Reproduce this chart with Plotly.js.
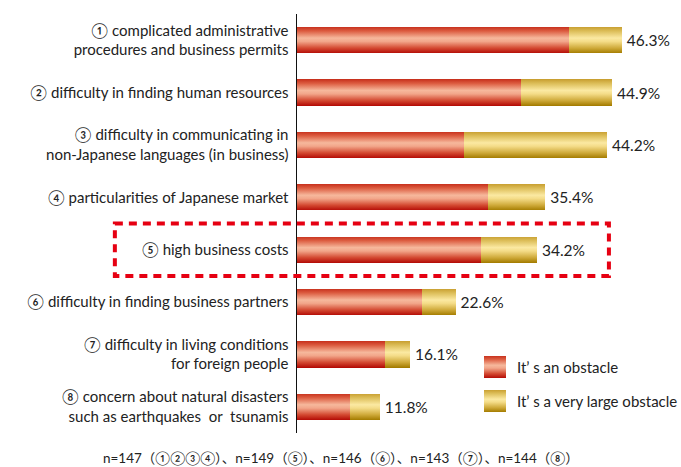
<!DOCTYPE html>
<html><head><meta charset="utf-8">
<script src="https://cdn.plot.ly/plotly-3.0.1.min.js"></script>
<style>html,body{margin:0;padding:0;background:#fff;}#chart{width:681px;height:467px;}</style>
</head><body><div id="chart"></div>
<script>
const categories = [
  "① complicated administrative<br>procedures and business permits",
  "② difficulty in finding human resources",
  "③ difficulty in communicating in<br>non-Japanese languages (in business)",
  "④ particularities of Japanese market",
  "⑤ high business costs",
  "⑥ difficulty in finding business partners",
  "⑦ difficulty in living conditions<br>for foreign people",
  "⑧ concern about natural disasters<br>such as earthquakes  or  tsunamis"
];
const obstacle      = [38.7, 31.9, 23.8, 27.2, 26.2, 17.8, 12.5, 7.5];
const veryLarge     = [7.6, 13.0, 20.4, 8.2, 8.0, 4.8, 3.6, 4.3];
const totalLabels   = ["46.3%", "44.9%", "44.2%", "35.4%", "34.2%", "22.6%", "16.1%", "11.8%"];
const seriesNames   = ["It\u2019 s an obstacle", "It\u2019 s a very large obstacle"];
const noteText      = "n=147（①②③④）、n=149（⑤）、n=146（⑥）、n=143（⑦）、n=144（⑧）";

const FONT = "Lato, 'Noto Sans CJK JP', sans-serif";

const traces = [
  {type:'bar', orientation:'h', y:categories, x:obstacle, name:seriesNames[0],
   marker:{color:'#d9533a', line:{width:0}}, hoverinfo:'none', showlegend:false},
  {type:'bar', orientation:'h', y:categories, x:veryLarge, name:seriesNames[1],
   marker:{color:'#d8b444', line:{width:0}}, hoverinfo:'none', showlegend:false,
   text:totalLabels.map(t => '\u2009' + t), textposition:'outside', cliponaxis:false, constraintext:'none',
   outsidetextfont:{family:FONT, size:15.5, color:'#222'}}
];

// legend built from series names (manual placement)
const legendBoxes = [
  {x0:0.5, x1:0.5588, y0:0.1313, y1:0.1838, color:'#d9533a'},
  {x0:0.5, x1:0.5588, y0:0.0501, y1:0.1026, color:'#d8b444'}
];

const layout = {
  width:681, height:467,
  margin:{l:297, r:10, t:14, b:34},
  paper_bgcolor:'#fff', plot_bgcolor:'#fff',
  barmode:'stack', bargap:0.5,
  font:{family:FONT, size:15, color:'#222'},
  xaxis:{range:[0, 53.3], showgrid:false, zeroline:false, showticklabels:false, showline:false, ticks:'', fixedrange:true},
  yaxis:{type:'category', range:[7.5, -0.5], showgrid:false, zeroline:false, showline:true,
         linecolor:'#111', linewidth:1.5, ticks:'outside', ticklen:4, tickcolor:'rgba(0,0,0,0)',
         tickfont:{family:FONT, size:15, color:'#222'}},
  showlegend:false,
  shapes:[{type:'rect', xref:'paper', yref:'y', x0:-0.487, x1:0.834, y0:3.5, y1:4.5,
           line:{color:'#e60012', width:4, dash:'8px,6px'}, fillcolor:'rgba(0,0,0,0)', layer:'above'}]
    .concat(legendBoxes.map(b => ({type:'rect', xref:'paper', yref:'paper', x0:b.x0, x1:b.x1, y0:b.y0, y1:b.y1,
           line:{width:0}, fillcolor:b.color, layer:'above'}))),
  annotations:[
    {text:noteText, xref:'paper', yref:'paper', x:0.118, y:-0.06, xanchor:'center', yanchor:'middle',
     showarrow:false, font:{family:FONT, size:13.5, color:'#222'}},
    {text:seriesNames[0], xref:'paper', yref:'paper', x:0.582, y:0.1575, xanchor:'left', yanchor:'middle',
     showarrow:false, font:{family:FONT, size:15, color:'#222'}},
    {text:seriesNames[1], xref:'paper', yref:'paper', x:0.582, y:0.0764, xanchor:'left', yanchor:'middle',
     showarrow:false, font:{family:FONT, size:15, color:'#222'}}
  ]
};

function addGradients(gd){
  const svg = gd.querySelector('svg.main-svg');
  let defs = svg.querySelector('defs');
  if(!svg.querySelector('#gRed')){
    const ns='http://www.w3.org/2000/svg';
    const mk=(id,stops)=>{
      const g=document.createElementNS(ns,'linearGradient');
      g.setAttribute('id',id); g.setAttribute('x1','0'); g.setAttribute('y1','0'); g.setAttribute('x2','0'); g.setAttribute('y2','1');
      stops.forEach(([o,c])=>{const s=document.createElementNS(ns,'stop'); s.setAttribute('offset',o); s.setAttribute('stop-color',c); g.appendChild(s);});
      defs.appendChild(g);
    };
    mk('gRed',[['0','#c8321e'],['0.15','#dc5c40'],['0.42','#f6b89c'],['0.55','#f2a68a'],['0.8','#d44a32'],['1','#b40c06']]);
    mk('gGold',[['0','#c9a032'],['0.15','#dcbd58'],['0.42','#fbe9a2'],['0.55','#f4dc88'],['0.8','#cfaa3a'],['1','#a47c00']]);
  }
  const grads=['url(#gRed)','url(#gGold)'];
  gd.querySelectorAll('.barlayer .trace').forEach((t,i)=>{
    t.querySelectorAll('path').forEach(p=>{p.style.fill=grads[i];});
  });
  gd.querySelectorAll('.shapelayer path').forEach(p=>{
    const idx = +p.getAttribute('data-index');
    if(idx === 1 || idx === 2){ p.style.fill = grads[idx-1]; p.style.fillOpacity = 1; }
  });
}

const gd = document.getElementById('chart');
Plotly.newPlot(gd, traces, layout, {staticPlot:true, displayModeBar:false}).then(()=>{
  addGradients(gd);
  gd.on && gd.on('plotly_afterplot', ()=>addGradients(gd));
});
</script>
</body></html>
